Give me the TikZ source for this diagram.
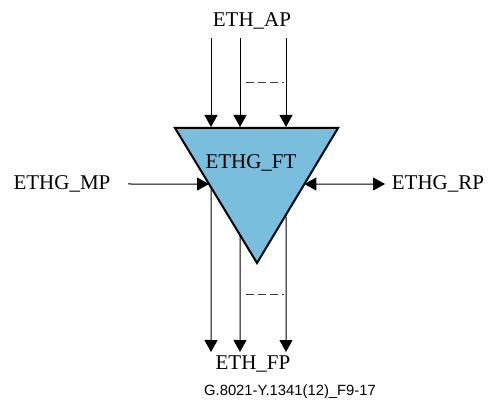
\documentclass[tikz,border=0pt]{standalone}
\usepackage{fontspec}
\setmainfont{Liberation Serif}
\newfontfamily\captionfont{Liberation Sans}
\usepackage{tikz}
\usetikzlibrary{calc,arrows.meta}
\definecolor{ftblue}{RGB}{122,190,222}

\begin{document}
\begin{tikzpicture}[
    x=0.5pt, y=-0.5pt,
    font=\fontsize{10.5}{12}\selectfont,
    label/.style={inner sep=0pt, anchor=center},
    block/.style={draw=black, line width=1pt, fill=ftblue, line join=miter},
    flow/.style={-{Triangle[length=6pt,width=6.5pt]}, line width=0.5pt},
    biflow/.style={{Triangle[length=6pt,width=6.5pt]}-{Triangle[length=6pt,width=6.5pt]}, line width=0.5pt},
    more/.style={draw=black!75, line width=0.5pt, dash pattern=on 4pt off 2pt}
]
    \useasboundingbox (0,0) rectangle (488,401);

    % --- FUNCTION BLOCK ---
    \coordinate (TL) at (175,128);
    \coordinate (TR) at (338,128);
    \coordinate (Bot) at (257,263);
    \draw[block] (TL) -- (TR) -- (Bot) -- cycle;
    \node[label] (FT) at (251,163) {ETHG\_FT};

    % --- ACCESS POINTS (top) ---
    \node[label] (AP) at (252,21) {ETH\_AP};
    \coordinate (AP1) at (211,38);
    \coordinate (AP2) at (240,38);
    \coordinate (AP3) at (286,38);
    \coordinate (In1) at (211,127);
    \coordinate (In2) at (240,127);
    \coordinate (In3) at (286,127);
    \draw[flow] (AP1) -- (In1);
    \draw[flow] (AP2) -- (In2);
    \draw[flow] (AP3) -- (In3);
    \draw[more] (246,83) -- (284,83);

    % --- FLOW POINTS (bottom) ---
    \node[label] (FP) at (253,364) {ETH\_FP};
    \coordinate (Out1) at ($(TL)!0.44!(Bot)$);
    \coordinate (Out2) at ($(TL)!0.793!(Bot)$);
    \coordinate (Out3) at ($(TR)!0.642!(Bot)$);
    \coordinate (FP1) at (211,352);
    \coordinate (FP2) at (240,352);
    \coordinate (FP3) at (286,352);
    \draw[flow] (Out1) -- (FP1);
    \draw[flow] (Out2) -- (FP2);
    \draw[flow] (Out3) -- (FP3);
    \draw[more] (246,295) -- (284,295);

    % --- MANAGEMENT AND REMOTE POINTS ---
    \node[label] (MP) at (62,184) {ETHG\_MP};
    \node[label] (RP) at (438,184) {ETHG\_RP};
    \coordinate (MPstart) at (128,184);
    \coordinate (RPend) at (385,184);
    \coordinate (MPin) at ($(TL)!0.415!(Bot)$);
    \coordinate (RPin) at ($(TR)!0.415!(Bot)$);
    \draw[flow] (MPstart) -- (MPin);
    \draw[biflow] (RPin) -- (RPend);

    \node[label, font=\captionfont\fontsize{7.4}{9}\selectfont] (Fig) at (290,392) {G.8021-Y.1341(12)\_F9-17};
\end{tikzpicture}
\end{document}
